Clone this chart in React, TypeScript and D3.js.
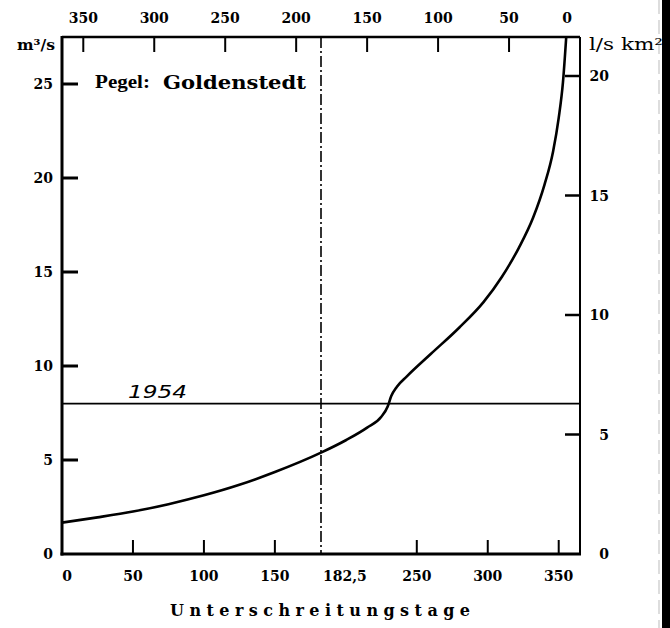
import React from "react";
import * as d3 from "d3";

const curveDays = [0, 25, 50, 75, 100, 125, 150, 182.5, 200, 215, 225, 229.5, 232, 236, 243, 260, 280, 297, 310, 322, 332, 340, 346, 350, 353, 355.3];
const curveQ = [1.67, 1.95, 2.26, 2.65, 3.12, 3.68, 4.36, 5.39, 6.05, 6.72, 7.3, 7.85, 8.4, 8.9, 9.45, 10.65, 12.05, 13.4, 14.75, 16.3, 17.9, 19.65, 21.4, 23.2, 25.1, 27.5];

const bottomTicks = [50, 100, 150, 250, 300, 350];
const bottomLabels = [0, 50, 100, 150, 250, 300, 350];
const halfYear = 182.5;
const topTicks = [350, 300, 250, 200, 150, 100, 50];
const topLabels = [350, 300, 250, 200, 150, 100, 50, 0];
const leftTicks = [5, 10, 15, 20, 25];
const leftLabels = [0, 5, 10, 15, 20, 25];
const rightTicks = [5, 10, 15, 20];
const rightLabels = [0, 5, 10, 15, 20];
const year1954Q = 8.0;

const W = 670;
const H = 628;
const L = 62, R = 580, T = 37, B = 554;

export default function App() {
  const x = d3.scaleLinear().domain([0, 365]).range([L, R]);
  const xTop = d3.scaleLinear().domain([365, 0]).range([L, R]);
  const y = d3.scaleLinear().domain([0, 27.5]).range([B, T]);
  const yR = d3.scaleLinear().domain([0, (B - T) / 23.9]).range([B, T]);

  const pts: [number, number][] = curveDays.map((d, i) => [d, curveQ[i]]);
  const line = d3
    .line<[number, number]>()
    .x((d) => x(d[0]))
    .y((d) => y(d[1]))
    .curve(d3.curveMonotoneX);

  const serif = "'DejaVu Serif', 'Liberation Serif', serif";
  const tickFont = { fontFamily: serif, fontWeight: 700, fontSize: 14 } as const;

  return (
    <svg
      width={W}
      height={H}
      style={{ position: "absolute", left: 0, top: 0, background: "#fff" }}
    >
      <rect x={0} y={0} width={W} height={H} fill="#fff" />
      {/* scan edge */}
      <line x1={659} x2={659} y1={0} y2={H} stroke="#bbb" strokeWidth={1} strokeDasharray="14,6" />
      <rect x={662} y={0} width={8} height={H} fill="#000" />

      {/* frame */}
      <line x1={L} x2={R} y1={T} y2={T} stroke="#000" strokeWidth={2.5} />
      <line x1={R} x2={R} y1={T} y2={B} stroke="#000" strokeWidth={2} />
      <line x1={L} x2={L} y1={T - 1} y2={B + 1.5} stroke="#000" strokeWidth={3} />
      <line x1={L - 1.5} x2={R + 1} y1={B} y2={B} stroke="#000" strokeWidth={3} />

      {/* left ticks */}
      {leftTicks.map((v) => (
        <line key={"lt" + v} x1={L} x2={L + 16} y1={y(v)} y2={y(v)} stroke="#000" strokeWidth={3} />
      ))}
      {leftLabels.map((v) => (
        <text key={"ll" + v} x={53} y={y(v) + 5} textAnchor="end" {...tickFont}>
          {v}
        </text>
      ))}
      <text x={55} y={50} textAnchor="end" {...tickFont} textLength={38} lengthAdjust="spacingAndGlyphs">
        m³/s
      </text>

      {/* right ticks */}
      {rightTicks.map((v) => (
        <line key={"rt" + v} x1={R - 15} x2={R} y1={yR(v)} y2={yR(v)} stroke="#000" strokeWidth={2.5} />
      ))}
      {rightLabels.map((v) => (
        <text key={"rl" + v} x={609} y={yR(v) + 5} textAnchor="end" {...tickFont}>
          {v}
        </text>
      ))}
      <text
        x={589}
        y={50}
        textAnchor="start"
        fontFamily={serif}
        fontSize={16}
        textLength={74}
        lengthAdjust="spacingAndGlyphs"
      >
        l/s km²
      </text>

      {/* bottom ticks */}
      {bottomTicks.map((v) => (
        <line key={"bt" + v} x1={x(v)} x2={x(v)} y1={B} y2={B - 14} stroke="#000" strokeWidth={2} />
      ))}
      {bottomLabels.map((v) => (
        <text key={"bl" + v} x={x(v) + (v === 0 ? 5 : 0)} y={581} textAnchor="middle" {...tickFont}>
          {v}
        </text>
      ))}
      <text x={x(halfYear) + 2} y={581} textAnchor="start" {...tickFont}>
        {"182,5"}
      </text>

      {/* top ticks */}
      {topTicks.map((v) => (
        <line key={"tt" + v} x1={xTop(v)} x2={xTop(v)} y1={T} y2={T + 15} stroke="#000" strokeWidth={2} />
      ))}
      {topLabels.map((v) => (
        <text key={"tl" + v} x={v === 0 ? xTop(v) - 13 : xTop(v)} y={23} textAnchor="middle" {...tickFont}>
          {v}
        </text>
      ))}

      {/* median line */}
      <line
        x1={x(halfYear)}
        x2={x(halfYear)}
        y1={T}
        y2={B}
        stroke="#000"
        strokeWidth={1.6}
        strokeDasharray="11,3,2,3"
      />

      {/* 1954 line */}
      <line x1={L} x2={R} y1={y(year1954Q)} y2={y(year1954Q)} stroke="#000" strokeWidth={1.6} />
      <text
        x={128}
        y={y(year1954Q) - 6}
        fontFamily="'DejaVu Sans', sans-serif"
        fontStyle="italic"
        fontSize={17}
        textLength={59}
        lengthAdjust="spacingAndGlyphs"
      >
        1954
      </text>

      {/* duration curve */}
      <path d={line(pts) || ""} fill="none" stroke="#000" strokeWidth={2.6} />

      {/* title */}
      <text
        x={95}
        y={88}
        fontFamily="'Liberation Serif', serif"
        fontWeight={700}
        fontSize={18}
        textLength={55}
        lengthAdjust="spacingAndGlyphs"
      >
        Pegel:
      </text>
      <text
        x={163}
        y={89}
        fontFamily={serif}
        fontWeight={700}
        fontSize={18}
        textLength={143}
        lengthAdjust="spacingAndGlyphs"
      >
        Goldenstedt
      </text>

      {/* x title */}
      <text
        x={170}
        y={616}
        fontFamily={serif}
        fontWeight={700}
        fontSize={16}
        textLength={300}
        lengthAdjust="spacing"
      >
        Unterschreitungstage
      </text>
    </svg>
  );
}
